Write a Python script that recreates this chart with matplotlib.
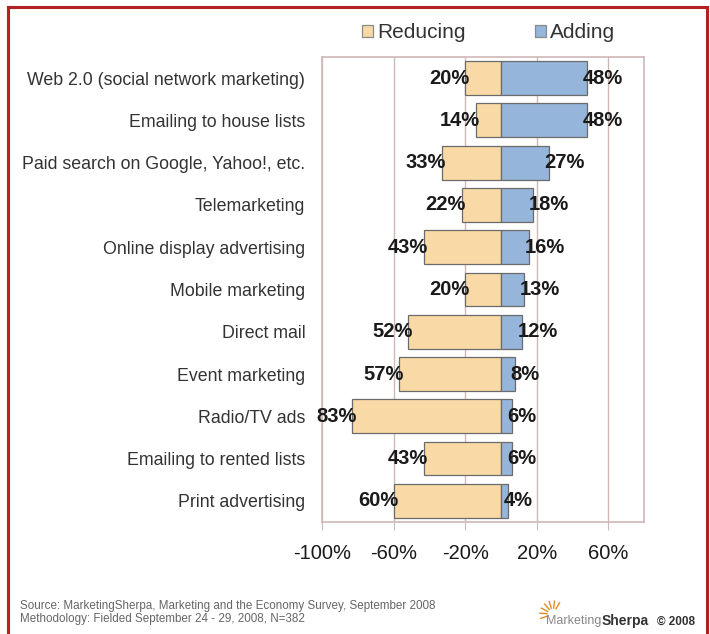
import matplotlib.pyplot as plt
from matplotlib.patches import Rectangle
from matplotlib.lines import Line2D
import numpy as np

plt.rcParams['font.family'] = ['Liberation Sans', 'DejaVu Sans']

# survey data (top to bottom)
categories = ["Web 2.0 (social network marketing)", "Emailing to house lists",
              "Paid search on Google, Yahoo!, etc.", "Telemarketing",
              "Online display advertising", "Mobile marketing", "Direct mail",
              "Event marketing", "Radio/TV ads", "Emailing to rented lists",
              "Print advertising"]
reducing = [20, 14, 33, 22, 43, 20, 52, 57, 83, 43, 60]
adding = [48, 48, 27, 18, 16, 13, 12, 8, 6, 6, 4]
xticks = [-100, -60, -20, 20, 60]

tan = '#F9D9A5'
blue = '#95B5DA'
edge = '#6b6b6b'
grid = '#cfb8b8'

fig = plt.figure(figsize=(7.1, 6.34), dpi=100)
ax = fig.add_axes([0.4535, 0.1767, 0.4535, 0.7334])

y = np.arange(len(categories))
b1 = ax.barh(y, [-v for v in reducing], height=0.8, color=tan, edgecolor=edge,
             linewidth=0.9, label='Reducing', zorder=3)
b2 = ax.barh(y, adding, height=0.8, color=blue, edgecolor=edge,
             linewidth=0.9, label='Adding', zorder=3)

for i in range(len(categories)):
    ax.text(-reducing[i] + 2.5, y[i], f"{reducing[i]}%", ha='right', va='center',
            fontsize=14.5, fontweight='bold', color='#1a1a1a', zorder=4)
    ax.text(adding[i] - 2.5, y[i], f"{adding[i]}%", ha='left', va='center',
            fontsize=14.5, fontweight='bold', color='#1a1a1a', zorder=4)

ax.set_xlim(-100, 80)
ax.set_ylim(len(categories) - 0.5, -0.5)
ax.set_xticks(xticks)
ax.set_xticklabels([f"{t}%" for t in xticks], fontsize=14.5, color='#1a1a1a')
ax.set_yticks(y)
ax.set_yticklabels(categories, fontsize=12.8, color='#333333')
ax.tick_params(axis='y', length=0, pad=12)
ax.tick_params(axis='x', length=6, color=grid, pad=10)
ax.grid(axis='x', color=grid, linewidth=1, zorder=0)
for s in ax.spines.values():
    s.set_color(grid)
    s.set_linewidth(1.2)

leg = fig.legend(handles=[b1, b2], loc='center', bbox_to_anchor=(0.688, 0.948),
                 ncol=2, frameon=False, fontsize=15, handlelength=0.55,
                 handleheight=0.55, handletextpad=0.2, columnspacing=3.3)
for h in leg.legend_handles:
    h.set_edgecolor('#8a8a8a')
for t in leg.get_texts():
    t.set_color('#333333')

# outer red frame
fig.add_artist(Rectangle((8 / 710, -0.05), 699 / 710, 1.05 - 7 / 634,
                         transform=fig.transFigure, fill=False,
                         edgecolor='#b22222', linewidth=2.2))

fig.text(20 / 710, 1 - 606 / 634,
         "Source: MarketingSherpa, Marketing and the Economy Survey, September 2008",
         fontsize=8.4, color='#666666', va='center')
fig.text(20 / 710, 1 - 619 / 634,
         "Methodology: Fielded September 24 - 29, 2008, N=382",
         fontsize=8.4, color='#666666', va='center')

# logo
cx, cy = 553 / 710, 1 - 614 / 634
for a in np.linspace(60, 200, 7):
    r0, r1 = 6, 13
    fig.add_artist(Line2D([cx + r0 * np.cos(np.radians(a)) / 710, cx + r1 * np.cos(np.radians(a)) / 710],
                          [cy + r0 * np.sin(np.radians(a)) / 634, cy + r1 * np.sin(np.radians(a)) / 634],
                          transform=fig.transFigure, color='#e08a2c', linewidth=1))
t1 = fig.text(546 / 710, 1 - 621 / 634, "Marketing", fontsize=9, color='#888888', va='center')
t2 = ax.annotate("Sherpa", xy=(1, 0.5), xycoords=t1, xytext=(0, 0), textcoords='offset points',
                 fontsize=10, fontweight='bold', color='#333333', va='center', ha='left',
                 annotation_clip=False)
ax.annotate("© 2008", xy=(1, 0.5), xycoords=t2, xytext=(6, -0.5), textcoords='offset points',
            fontsize=8.5, fontweight='bold', color='#333333', va='center', ha='left',
            annotation_clip=False)

fig.savefig('out.png', dpi=100, facecolor='white')
